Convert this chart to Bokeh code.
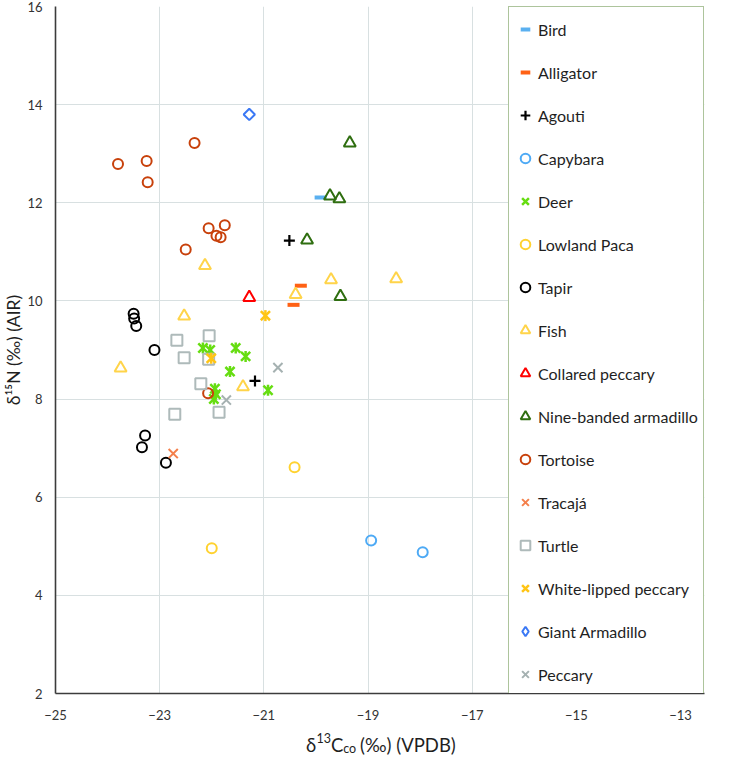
import math
from bokeh.plotting import figure
from bokeh.models import Range1d, FixedTicker, Legend, LegendItem
from bokeh.layouts import column
from bokeh.core.properties import value
from bokeh.embed import file_html
from bokeh.resources import INLINE

# ---------------- data (δ13C, δ15N) ----------------
bird_x = [-19.91]
bird_y = [12.11]
alligator_x = [-20.29, -20.43]
alligator_y = [10.31, 9.92]
agouti_x = [-20.51, -21.17]
agouti_y = [11.23, 8.37]
capybara_x = [-18.94, -17.95]
capybara_y = [5.12, 4.88]
deer_x = [-22.17, -22.03, -21.54, -21.35, -21.65, -21.94, -21.92, -21.96, -20.92]
deer_y = [9.04, 9.00, 9.04, 8.87, 8.56, 8.21, 8.10, 8.00, 8.18]
paca_x = [-20.41, -22.00]
paca_y = [6.61, 4.96]
tapir_x = [-23.50, -23.49, -23.45, -23.10, -23.28, -23.34, -22.88]
tapir_y = [9.74, 9.64, 9.49, 9.00, 7.26, 7.02, 6.70]
fish_x = [-22.13, -22.53, -23.75, -21.40, -20.39, -19.71, -18.46]
fish_y = [10.72, 9.69, 8.63, 8.25, 10.13, 10.43, 10.45]
collared_x = [-21.28]
collared_y = [10.07]
ninebanded_x = [-19.35, -19.73, -19.55, -20.17, -19.53]
ninebanded_y = [13.22, 12.14, 12.08, 11.24, 10.09]
tortoise_x = [-23.80, -23.25, -23.23, -22.33, -22.06, -21.75, -21.91, -21.83, -22.50, -22.07]
tortoise_y = [12.79, 12.85, 12.42, 13.22, 11.48, 11.54, 11.33, 11.30, 11.05, 8.12]
tracaja_x = [-22.74]
tracaja_y = [6.89]
turtle_x = [-22.67, -22.05, -22.53, -22.06, -22.21, -22.71, -21.86]
turtle_y = [9.20, 9.29, 8.84, 8.81, 8.31, 7.69, 7.73]
wlp_x = [-20.97, -22.01]
wlp_y = [9.70, 8.83]
giant_x = [-21.28]
giant_y = [13.80]
peccary_x = [-20.73, -21.72]
peccary_y = [8.64, 7.98]

x_ticks = [-25, -23, -21, -19, -17, -15, -13]
y_ticks = [2, 4, 6, 8, 10, 12, 14, 16]

FONT = "Lato"
TXT = "#1f1f1f"
X0, X1, Y0, Y1 = -25, -12.54, 2, 16

# layout sizes (pixels) -- kept a little inside the 716x767 content box
W = 710
XSH = 34                 # strip holding the x-axis title
MH = 722
BL, BR, BT, BB = 50, 6, 6, 27
FW = W - BL - BR

p = figure(width=W, height=MH, output_backend="svg", toolbar_location=None,
           x_range=Range1d(X0, X1), y_range=Range1d(Y0, Y1),
           min_border_left=BL, min_border_right=BR, min_border_top=BT, min_border_bottom=BB)
p.outline_line_color = None

for ax in (p.xaxis[0], p.yaxis[0]):
    ax.axis_line_color = "#3c3c3c"
    ax.axis_line_width = 1.6
    ax.major_tick_line_color = None
    ax.minor_tick_line_color = None
    ax.major_label_text_font = FONT
    ax.major_label_text_font_size = "13px"
    ax.major_label_text_color = "#333333"
p.xaxis.ticker = FixedTicker(ticks=x_ticks)
p.yaxis.ticker = FixedTicker(ticks=y_ticks)
p.xaxis.major_label_standoff = 10
p.yaxis.major_label_standoff = 7
p.yaxis.axis_label = "δ¹⁵N (‰) (AIR)"
p.yaxis.axis_label_text_font = FONT
p.yaxis.axis_label_text_font_size = "17.5px"
p.yaxis.axis_label_text_font_style = "normal"
p.yaxis.axis_label_text_color = TXT
p.yaxis.axis_label_standoff = 0
p.xgrid.ticker = FixedTicker(ticks=x_ticks)
p.ygrid.ticker = FixedTicker(ticks=y_ticks)
for g in (p.xgrid[0], p.ygrid[0]):
    g.grid_line_color = "#D8E0E1"
    g.grid_line_width = 1

items = []


def add(xs, ys, marker, color, size, lw, angle=0.0):
    return p.scatter(xs, ys, marker=marker, size=size, angle=angle,
                     line_color=color, line_width=lw, fill_color=None)


def star(name, xs, ys, color):
    r1 = p.scatter(xs, ys, marker="x", size=13, line_color=color, line_width=2.5)
    p.scatter(xs, ys, marker="dash", size=11, angle=math.pi / 2,
              line_color=color, line_width=2.5)
    items.append(LegendItem(label=name, renderers=[r1]))


items.append(LegendItem(label="Bird", renderers=[add(bird_x, bird_y, "dash", "#5AB0F0", 12, 4)]))
items.append(LegendItem(label="Alligator", renderers=[add(alligator_x, alligator_y, "dash", "#FF6114", 12, 4)]))
items.append(LegendItem(label="Agouti", renderers=[add(agouti_x, agouti_y, "cross", "#000000", 11, 2.2)]))
items.append(LegendItem(label="Capybara", renderers=[add(capybara_x, capybara_y, "circle", "#4EAAF5", 10, 2)]))
star("Deer", deer_x, deer_y, "#66DD11")
items.append(LegendItem(label="Lowland Paca", renderers=[add(paca_x, paca_y, "circle", "#FFD230", 10, 2)]))
items.append(LegendItem(label="Tapir", renderers=[add(tapir_x, tapir_y, "circle", "#000000", 10, 2)]))
items.append(LegendItem(label="Fish", renderers=[add(fish_x, fish_y, "triangle", "#FFD44A", 12, 2)]))
items.append(LegendItem(label="Collared peccary", renderers=[add(collared_x, collared_y, "triangle", "#FF0000", 12, 2)]))
items.append(LegendItem(label="Nine-banded armadillo", renderers=[add(ninebanded_x, ninebanded_y, "triangle", "#2F6E10", 12, 2)]))
items.append(LegendItem(label="Tortoise", renderers=[add(tortoise_x, tortoise_y, "circle", "#C8410B", 10, 2)]))
items.append(LegendItem(label="Tracajá", renderers=[add(tracaja_x, tracaja_y, "x", "#F4804C", 13, 2)]))
items.append(LegendItem(label="Turtle", renderers=[add(turtle_x, turtle_y, "square", "#AEBABA", 11, 2)]))
star("White-lipped peccary", wlp_x, wlp_y, "#FFC515")
add(giant_x, giant_y, "square", "#3A78F5", 8, 2, math.pi / 4)
giant_key = add(giant_x, giant_y, "diamond", "#3A78F5", 12, 2)
giant_key.visible = False
items.append(LegendItem(label="Giant Armadillo", renderers=[giant_key]))
items.append(LegendItem(label="Peccary", renderers=[add(peccary_x, peccary_y, "x", "#A5B1B1", 13, 2)]))

ppx = FW / (X1 - X0)
LEG_W = (X1 - (-16.24)) * ppx
legend = Legend(items=items, location="top_right", margin=0, padding=4, spacing=7,
                label_height=36, glyph_height=36, glyph_width=24, label_standoff=1,
                label_width=int(LEG_W - 4 - 24 - 1 - 4),
                border_line_color="#5B8A3A", border_line_width=1.5,
                background_fill_color="white", background_fill_alpha=1.0,
                label_text_font=FONT, label_text_font_size="16px",
                label_text_color=TXT)
p.add_layout(legend)

# strip below the chart that carries the x-axis title with its sub/superscripts
xs = figure(width=W, height=XSH, output_backend="svg", toolbar_location=None,
            x_range=Range1d(0, 1), y_range=Range1d(0, XSH),
            min_border_left=BL, min_border_right=BR, min_border_top=0, min_border_bottom=0,
            x_axis_location=None, y_axis_location=None)
xs.outline_line_color = None
for g in xs.grid:
    g.visible = False


def piece(dx, y, text, size):
    # anchored at the centre of the plot frame, shifted by dx pixels
    xs.text(x=[0.5], y=[y], text=[text], x_offset=dx, text_font=value(FONT),
            text_font_size=value(size), text_color=TXT,
            text_align="left", text_baseline="alphabetic")


BIG, SMALL = "18.5px", "12.5px"
base = 12
piece(-74.0, base, "δ", BIG)
piece(-63.6, base + 6.5, "13", SMALL)
piece(-49.1, base, "C", BIG)
piece(-36.8, base - 4, "co", SMALL)
piece(-20.0, base, "(‰) (VPDB)", BIG)

layout = column(p, xs)
open("out.html", "w").write(file_html(layout, INLINE))
